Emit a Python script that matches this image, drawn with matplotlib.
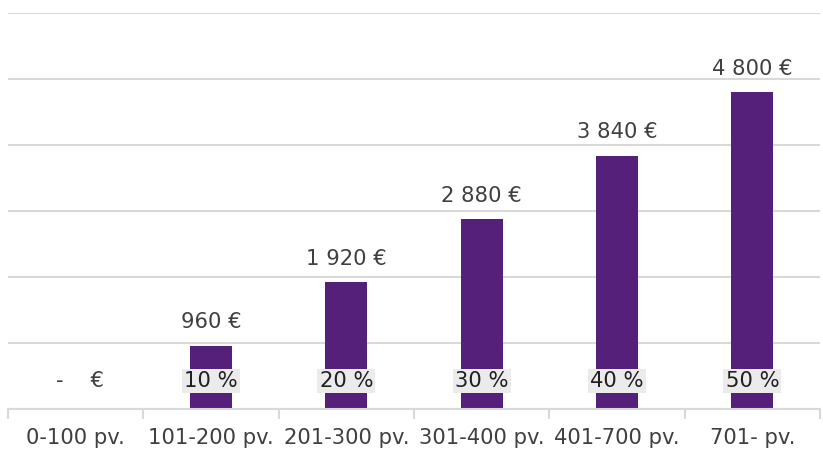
import matplotlib
matplotlib.use('agg')
import matplotlib.pyplot as plt
import numpy as np

categories = ['0-100 pv.', '101-200 pv.', '201-300 pv.', '301-400 pv.', '401-700 pv.', '701- pv.']
values = [0, 960, 1920, 2880, 3840, 4800]
percents = ['', '10 %', '20 %', '30 %', '40 %', '50 %']

plt.rcParams['font.family'] = ['DejaVu Sans']
txtcol = '#404040'
gridcol = '#d9d9d9'
fs = 15.2

fig = plt.figure(figsize=(8.23, 4.51), dpi=100)
ax = fig.add_axes([8/823, 42/451, 812/823, 396/451])

x = np.arange(len(categories))
ax.bar(x, values, width=0.31, color='#55207a', zorder=2)

ax.set_xlim(-0.5, len(categories) - 0.5)
ax.set_ylim(0, 6000)
ax.set_yticks(np.arange(0, 6001, 1000))
ax.yaxis.grid(True, color=gridcol, linewidth=1.5, zorder=0)
ax.tick_params(axis='y', left=False, labelleft=False)

for s in ['top', 'right', 'left']:
    ax.spines[s].set_visible(False)
ax.spines['bottom'].set_color(gridcol)
ax.spines['bottom'].set_linewidth(1.5)

ax.set_xticks(x)
ax.set_xticklabels(categories, fontsize=fs, color=txtcol)
ax.tick_params(axis='x', which='major', length=0, pad=14)
ax.set_xticks(np.arange(-0.5, len(categories)), minor=True)
ax.tick_params(axis='x', which='minor', length=7, width=1.5, color=gridcol)

def fmt(v):
    if v == 0:
        return '-    €'
    return '{:,}'.format(v).replace(',', ' ') + ' €'

for i, v in enumerate(values):
    if v == 0:
        ax.text(i + 0.03, 420, fmt(v), ha='center', va='center', fontsize=fs, color=txtcol)
    else:
        ax.text(i, v + 200, fmt(v), ha='center', va='bottom', fontsize=fs, color=txtcol)

for i, p in enumerate(percents):
    if p:
        ax.text(i, 420, p, ha='center', va='center', fontsize=fs, color='#202020',
                bbox=dict(boxstyle='square,pad=0.1', facecolor='#ebebeb', edgecolor='none'), zorder=3)

plt.savefig('out.png', dpi=100)
plt.close()
